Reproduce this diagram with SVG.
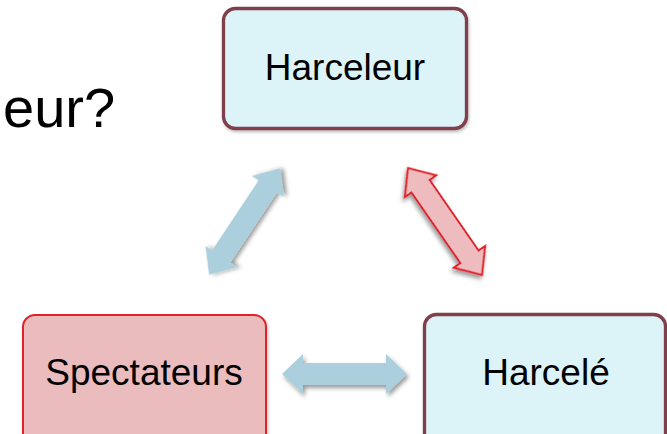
<svg xmlns="http://www.w3.org/2000/svg" width="667" height="434" viewBox="0 0 667 434">
  <defs>
    <filter id="sh" x="-20%" y="-20%" width="140%" height="140%">
      <feDropShadow dx="2" dy="3" stdDeviation="2" flood-color="#000" flood-opacity="0.4"/>
    </filter>
    <filter id="shb" x="-10%" y="-10%" width="120%" height="120%">
      <feDropShadow dx="1" dy="2" stdDeviation="1.5" flood-color="#000" flood-opacity="0.25"/>
    </filter>
  </defs>
  <style>
    .lbl { font-family: "Liberation Sans", Arial, sans-serif; font-size: 37px; fill: #000; text-anchor: middle; }
    .blue { fill: #dcf3f8; stroke: #7f3f4c; stroke-width: 3.3; }
    .pink { fill: #ebbcbd; stroke: #e0222c; stroke-width: 2; }
    .arB { fill: #abcfdc; filter: url(#sh); }
    .arR { fill: #eebcbf; stroke: #e0222c; stroke-width: 2; filter: url(#sh); }
  </style>
  <text x="3" y="127" font-family="Liberation Sans, Arial, sans-serif" font-size="56" fill="#000">eur?</text>
  <g id="connectors">
    <polygon class="arB" transform="translate(244.5,221.5) rotate(-56.4)" points="-64,0 -42,-19 -42,-11 42,-11 42,-19 64,0 42,19 42,11 -42,11 -42,19"/>
    <polygon class="arR" transform="translate(445,221.5) rotate(55.3)" points="-65,0 -43,-19 -43,-11 43,-11 43,-19 65,0 43,19 43,11 -43,11 -43,19"/>
    <polygon class="arB" points="282,374 303,354 303,363 386,363 386,354 407,374 386,394 386,385 303,385 303,394"/>
  </g>
  <g id="harceleur">
    <rect class="blue" x="223.5" y="8.5" width="243" height="120" rx="12" filter="url(#shb)"/>
    <text class="lbl" x="345" y="80">Harceleur</text>
  </g>
  <g id="spectateurs">
    <rect class="pink" x="23" y="315" width="243" height="140" rx="12" filter="url(#shb)"/>
    <text class="lbl" x="144" y="385">Spectateurs</text>
  </g>
  <g id="harcele">
    <rect class="blue" x="424.5" y="314.5" width="241" height="140" rx="12" filter="url(#shb)"/>
    <text class="lbl" x="546" y="385">Harcelé</text>
  </g>
</svg>
